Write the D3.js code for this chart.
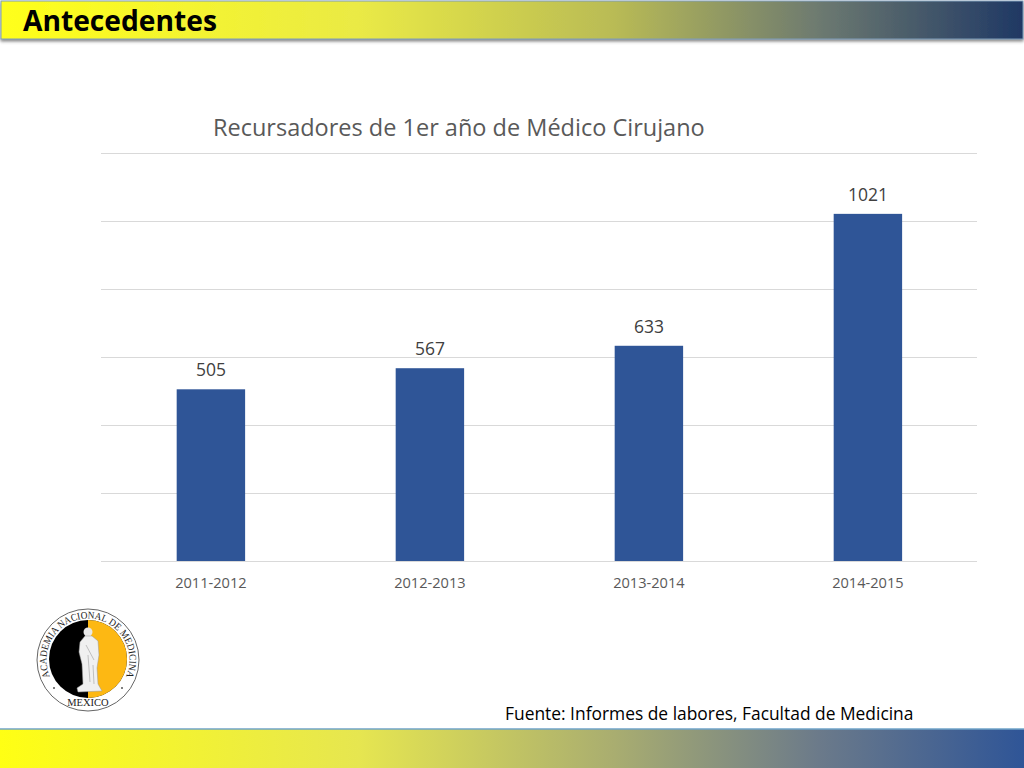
<!DOCTYPE html>
<html><head><meta charset="utf-8">
<script src="https://cdn.jsdelivr.net/npm/d3@7"></script>
<style>html,body{margin:0;padding:0;background:#fff;overflow:hidden}svg{display:block}</style>
</head><body>
<script>
const categories = ["2011-2012","2012-2013","2013-2014","2014-2015"];
const seriesValues = [505,567,633,1021];
const gridTicks = [0,200,400,600,800,1000,1200];
const chartTitle = "Recursadores de 1er año de Médico Cirujano";
const slideTitle = "Antecedentes";
const sourceNote = "Fuente: Informes de labores, Facultad de Medicina";
const sealText = "ACADEMIA NACIONAL DE MEDICINA";
const sealBottom = "MEXICO";
const svg = d3.select("body").append("svg").attr("width",1024).attr("height",768);
const defs = svg.append("defs");
function grad(id,stops){
  const g = defs.append("linearGradient").attr("id",id);
  stops.forEach(s=>g.append("stop").attr("offset",s[0]).attr("stop-color",s[1]));
}
grad("topG",[[0,"#ffff1a"],[0.35,"#eaea45"],[0.6,"#b9bb55"],[0.8,"#6d7a70"],[1,"#1f3864"]]);
grad("botG",[[0,"#ffff14"],[0.35,"#e6e650"],[0.6,"#a9ad70"],[0.8,"#6b7a8a"],[1,"#2f5597"]]);
const f = defs.append("filter").attr("id","sh").attr("x","-2%").attr("y","-20%").attr("width","104%").attr("height","150%");
f.append("feDropShadow").attr("dx",0).attr("dy",2).attr("stdDeviation",1.5).attr("flood-color","#555").attr("flood-opacity",0.7);

// header
svg.append("rect").attr("x",1).attr("y",1).attr("width",1022).attr("height",38)
  .attr("fill","url(#topG)").attr("stroke","#7f9db9").attr("stroke-width",1).attr("filter","url(#sh)");
svg.append("text").attr("x",23).attr("y",31).attr("font-family","'Open Sans', sans-serif")
  .attr("font-weight",700).attr("font-size",28.2).attr("fill","#000").text(slideTitle);

// footer
svg.append("rect").attr("x",0).attr("y",729).attr("width",1024).attr("height",39)
  .attr("fill","url(#botG)");
svg.append("line").attr("x1",0).attr("x2",1024).attr("y1",729).attr("y2",729).attr("stroke","#6fa3c8").attr("stroke-width",1.5);

// chart
const x = d3.scaleBand().domain(categories).range([101.4,977.4]).paddingInner(0.6875).paddingOuter(0.34375);
const y = d3.scaleLinear().domain([0,1200]).range([561,153]);
svg.append("g").selectAll("line").data(gridTicks).join("line")
  .attr("x1",101).attr("x2",977).attr("y1",d=>y(d)+0.5).attr("y2",d=>y(d)+0.5)
  .attr("stroke","#d9d9d9").attr("stroke-width",1.2);
svg.append("g").selectAll("rect").data(seriesValues).join("rect")
  .attr("x",(d,i)=>x(categories[i])).attr("width",x.bandwidth())
  .attr("y",d=>y(d)).attr("height",d=>y(0)-y(d)).attr("fill","#2f5597");
svg.append("g").selectAll("text").data(seriesValues).join("text")
  .attr("x",(d,i)=>x(categories[i])+x.bandwidth()/2).attr("y",d=>y(d)-13)
  .attr("text-anchor","middle").attr("font-family","'Open Sans', sans-serif").attr("font-size",17.5)
  .attr("fill","#404040").text(d=>d);
const gx = svg.append("g").attr("transform","translate(0,561)").call(d3.axisBottom(x).tickSize(0).tickPadding(0));
gx.select(".domain").remove();
gx.selectAll("text").attr("y",27).attr("dy",0).attr("font-family","'Open Sans', sans-serif")
  .attr("font-size",14.6).attr("fill","#595959");
svg.append("text").attr("x",213).attr("y",136).attr("font-family","'Open Sans', sans-serif")
  .attr("font-size",23.5).attr("fill","#595959").text(chartTitle);
svg.append("text").attr("x",505).attr("y",720).attr("font-family","'Open Sans', sans-serif")
  .attr("font-size",17.4).attr("fill","#000").text(sourceNote);

// seal
const cx=88, cy=660, rIn=39;
const seal = svg.append("g");
seal.append("circle").attr("cx",cx).attr("cy",cy).attr("r",51).attr("fill","#fff").attr("stroke","#666").attr("stroke-width",1);
seal.append("circle").attr("cx",cx).attr("cy",cy-1).attr("r",rIn).attr("fill","#000");
seal.append("path").attr("d",d3.arc()({innerRadius:0,outerRadius:rIn,startAngle:0,endAngle:Math.PI}))
  .attr("transform",`translate(${cx},${cy-1})`).attr("fill","#fdb813");
// statue
seal.append("circle").attr("cx",cx).attr("cy",632).attr("r",4.5).attr("fill","#e8e8e8");
seal.append("path").attr("fill","#f0f0f0").attr("stroke","#999").attr("stroke-width",0.5)
  .attr("d",`M${cx-3} 636 L${cx+4} 636 L${cx+10} 641 L${cx+11} 655 L${cx+9} 668 L${cx+10} 684 L${cx+14} 691 L${cx-10} 692 L${cx-11} 688 L${cx-5} 684 L${cx-6} 664 L${cx-9} 652 L${cx-8} 642 Z`);
seal.append("path").attr("fill","none").attr("stroke","#aaa").attr("stroke-width",0.7)
  .attr("d",`M${cx-2} 645 L${cx+6} 660 M${cx} 655 L${cx+2} 682 M${cx+5} 665 L${cx+6} 684`);
const a0 = 115*Math.PI/180, rT = 41.5;
const px = t=>cx+rT*Math.sin(t), py = t=>cy-rT*Math.cos(t);
defs.append("path").attr("id","arcTop").attr("d",`M${px(-a0)} ${py(-a0)} A${rT} ${rT} 0 1 1 ${px(a0)} ${py(a0)}`);
seal.append("text").attr("font-family","'Liberation Serif', serif").attr("font-size",10).attr("fill","#222")
  .append("textPath").attr("href","#arcTop").attr("startOffset","50%").attr("text-anchor","middle")
  .attr("textLength",164).attr("lengthAdjust","spacingAndGlyphs").text(sealText);
seal.selectAll("circle.dot").data([-1,1]).join("circle").attr("class","dot")
  .attr("cx",d=>cx+d*34).attr("cy",688).attr("r",1).attr("fill","#555");
seal.append("text").attr("x",cx).attr("y",706).attr("text-anchor","middle").attr("font-family","'Liberation Serif', serif")
  .attr("font-size",10.5).attr("fill","#222").text(sealBottom);
</script>
</body></html>
